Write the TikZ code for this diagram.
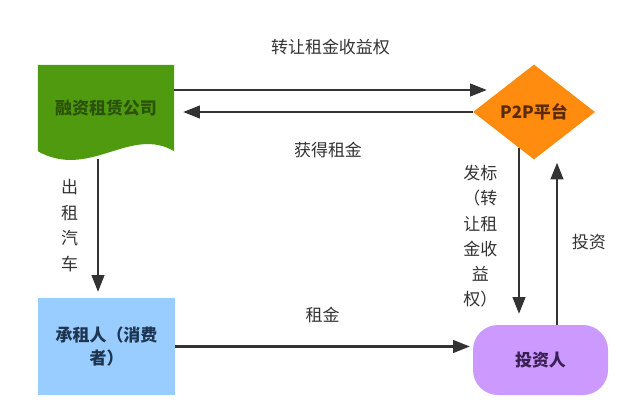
\documentclass[tikz,border=0pt]{standalone}
\usepackage{fontspec}
\setmainfont{Noto Sans CJK SC}
\usepackage{xcolor}
\usetikzlibrary{arrows.meta, positioning, shapes.geometric, calc, backgrounds}
\definecolor{FigLeaf}{HTML}{4F9A0E}
\definecolor{FigLeafText}{HTML}{2B520A}
\definecolor{FigAmber}{HTML}{FF8C0F}
\definecolor{FigAmberText}{HTML}{5C2A08}
\definecolor{FigSky}{HTML}{99CCFF}
\definecolor{FigSkyText}{HTML}{1E3550}
\definecolor{FigLilac}{HTML}{CC99FF}
\definecolor{FigLilacText}{HTML}{3A1F55}
\definecolor{FigInk}{HTML}{333333}

\begin{document}
\begin{tikzpicture}[x=0.03cm, y=-0.03cm,
  gbox/.style={minimum width=4.08cm, minimum height=2.58cm, inner sep=0pt, text=FigLeafText, font=\bfseries\fontsize{14.5}{18}\selectfont},
  pbox/.style={diamond, fill=FigAmber, minimum width=3.66cm, minimum height=2.85cm, inner sep=0pt, text=FigAmberText, font=\bfseries\fontsize{14.5}{18}\selectfont},
  sbox/.style={fill=FigSky, minimum width=4.11cm, minimum height=2.91cm, inner sep=0pt, align=center, text=FigSkyText, font=\bfseries\fontsize{14.5}{19}\selectfont},
  ibox/.style={fill=FigLilac, rounded corners=0.75cm, minimum width=4.05cm, minimum height=2.1cm, inner sep=0pt, text=FigLilacText, font=\bfseries\fontsize{14.5}{18}\selectfont},
  flow/.style={-{Triangle[length=0.5cm, width=0.38cm]}, line width=1.8pt, color=FigInk},
  note/.style={align=center, text=FigInk, font=\fontsize{14.5}{19.5}\selectfont}
]
\useasboundingbox (0,0) rectangle (641,419);

\node[gbox] (lease) at (106,108) {融资租赁公司};
\node[pbox] (p2p) at (534,112) {P2P平台};
\node[sbox] (renter) at (106.5,346.5) {承租人（消费\\者）};
\node[ibox] (investor) at (540.5,360) {投资人};

\begin{scope}[on background layer]
\fill[white] (0,0) rectangle (641,419);
\fill[FigLeaf] (lease.north west) -- (lease.north east) -- (lease.south east)
  .. controls ($(lease.south east)+(-44,-26)$) and ($(lease.south west)+(52,29)$) .. (lease.south west) -- cycle;
\end{scope}

\draw[flow] ($(lease.east)+(0,-18)$) -- node[note, above=0.9cm]{转让租金收益权} ($(p2p.west)+(14,-22)$);
\draw[flow] (p2p.west) -- node[note, below=0.75cm]{获得租金} ($(lease.east)+(9,4)$);
\draw[flow] ($(lease.south)+(-8,8)$) -- node[note, left=0.45cm, font=\fontsize{14.5}{21.7}\selectfont]{出\\租\\汽\\车} ($(renter.north)+(-8.5,-6)$);
\draw[flow] (renter.east) -- node[note, above=0.55cm]{租金} ([xshift=-0.09cm]renter.east -| investor.west);
\draw[flow, shorten >=0.33cm] ($(p2p.south)+(-15,-12)$) coordinate (dn) -- node[note, left=0.5cm, font=\fontsize{14.5}{21.5}\selectfont]{发标\\（转\\让租\\金收\\益\\权）} (dn |- investor.north);
\draw[flow, shorten >=0.09cm] ($(investor.north)+(16.5,0)$) coordinate (up) -- node[note, right=0.3cm]{投资} (up |- p2p.south);
\end{tikzpicture}
\end{document}
